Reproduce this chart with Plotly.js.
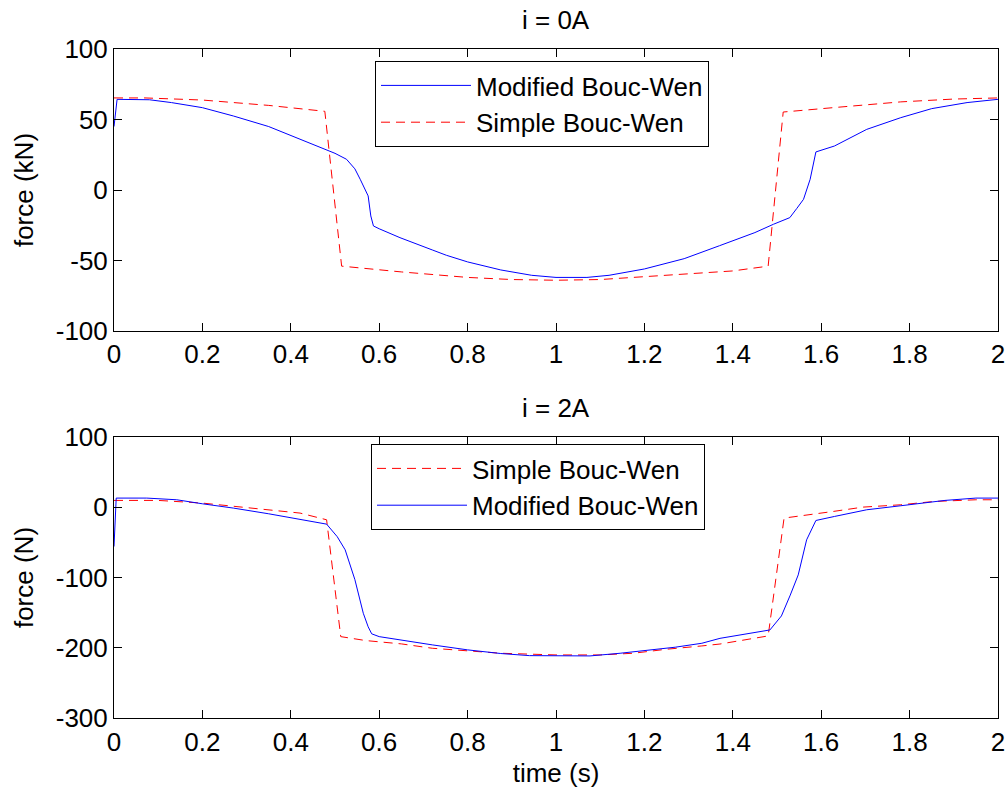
<!DOCTYPE html>
<html>
<head>
<meta charset="utf-8">
<script src="https://cdn.plot.ly/plotly-3.0.1.min.js"></script>
<style>html,body{margin:0;padding:0;background:#fff}#chart{width:1008px;height:791px}</style>
</head>
<body>
<div id="chart"></div>
<script>
// ---- data ----
// Top panel: i = 0A, force in kN
var tModTop = [0, 0.007, 0.08, 0.13, 0.2, 0.27, 0.35, 0.42, 0.47, 0.5, 0.526, 0.545, 0.557, 0.568, 0.575, 0.581, 0.587, 0.6, 0.647, 0.72, 0.752, 0.8, 0.875, 0.945, 1.0, 1.07, 1.12, 1.2, 1.29, 1.37, 1.45, 1.492, 1.529, 1.545, 1.56, 1.575, 1.582, 1.588, 1.63, 1.703, 1.78, 1.85, 1.93, 2.0];
var fModTop = [45, 64.3, 64, 62, 58.4, 52.5, 45, 36, 30, 26, 21.8, 15, 7.6, 1, -4.2, -18.4, -25.5, -27.5, -33.8, -42.5, -46.3, -51, -56.7, -60.5, -62, -62, -60.5, -56, -48.7, -39.5, -30.2, -24.3, -19.6, -13, -6.6, 7.6, 17, 27, 31.2, 43, 51.3, 57.7, 62, 64.3];
var tSimTop = [0, 0.07, 0.2, 0.35, 0.477, 0.515, 0.65, 0.8, 0.9, 1.0, 1.1, 1.25, 1.4, 1.48, 1.514, 1.627, 1.78, 1.9, 2.0];
var fSimTop = [65.3, 65.3, 63.8, 60, 55.8, -54, -58.1, -62, -63.5, -64, -63.5, -60.5, -57.4, -54, 55.3, 58.4, 62.5, 64.5, 65.3];

// Bottom panel: i = 2A, force in N
var tModBot = [0, 0.005, 0.074, 0.142, 0.2, 0.27, 0.35, 0.421, 0.46, 0.481, 0.505, 0.523, 0.545, 0.564, 0.575, 0.583, 0.6, 0.647, 0.72, 0.8, 0.875, 0.94, 1.0, 1.077, 1.145, 1.2, 1.27, 1.33, 1.371, 1.484, 1.51, 1.53, 1.548, 1.567, 1.588, 1.63, 1.703, 1.78, 1.88, 1.95, 2.0];
var fModBot = [-56, 12.8, 12.8, 10.4, 4.7, -1.4, -9.5, -17, -21.8, -24.2, -42, -60.7, -103, -150.8, -170, -180, -184, -188.8, -195.7, -202.8, -208, -211, -211.4, -211.4, -207.6, -203.8, -199, -193.4, -186.4, -174.5, -154.6, -125, -96.3, -46.5, -19, -13.3, -3.8, 1.9, 9.5, 12.8, 12.8];
var tSimBot = [0, 0.1, 0.2, 0.27, 0.35, 0.421, 0.481, 0.513, 0.57, 0.65, 0.72, 0.8, 0.875, 1.0, 1.1, 1.175, 1.25, 1.33, 1.371, 1.48, 1.516, 1.627, 1.695, 1.78, 1.855, 1.95, 2.0];
var fSimBot = [9.5, 9.5, 5.7, 0.9, -3.8, -8.5, -18, -184, -189.6, -194.3, -200.5, -204.3, -207.6, -210, -210, -207.6, -201.9, -197.2, -194.5, -183, -15.6, -6.2, 0, 3.3, 8, 10.4, 10.4];

var xTicks = [0, 0.2, 0.4, 0.6, 0.8, 1, 1.2, 1.4, 1.6, 1.8, 2];
var xTickText = ['0', '0.2', '0.4', '0.6', '0.8', '1', '1.2', '1.4', '1.6', '1.8', '2'];
var yTopTicks = [-100, -50, 0, 50, 100];
var yTopText = ['-100', '-50', '0', '50', '100'];
var yBotTicks = [-300, -200, -100, 0, 100];
var yBotText = ['-300', '-200', '-100', '0', '100'];

var nameMod = 'Modified Bouc-Wen';
var nameSim = 'Simple Bouc-Wen';
var titleTop = 'i = 0A';
var titleBot = 'i = 2A';

// ---- styling ----
var FONT = 'Liberation Sans, Arial, sans-serif';
var FS = 26;
var blueLine = {color: '#0000ff', width: 1};
var redLine = {color: '#ff0000', width: 1, dash: '9px,6px'};

var traces = [
  {x: tModTop, y: fModTop, type: 'scatter', mode: 'lines', name: nameMod, line: blueLine, xaxis: 'x', yaxis: 'y', legend: 'legend'},
  {x: tSimTop, y: fSimTop, type: 'scatter', mode: 'lines', name: nameSim, line: redLine, xaxis: 'x', yaxis: 'y', legend: 'legend'},
  {x: tSimBot, y: fSimBot, type: 'scatter', mode: 'lines', name: nameSim, line: redLine, xaxis: 'x2', yaxis: 'y2', legend: 'legend2'},
  {x: tModBot, y: fModBot, type: 'scatter', mode: 'lines', name: nameMod, line: blueLine, xaxis: 'x2', yaxis: 'y2', legend: 'legend2'}
];

function xAxis(anchor, withTitle) {
  var a = {
    domain: [114/1008, 998/1008], anchor: anchor, range: [0, 2],
    tickmode: 'array', tickvals: xTicks, ticktext: xTickText,
    ticks: 'inside', ticklen: 8, tickcolor: '#000', tickwidth: 1,
    mirror: 'allticks', showline: true, linecolor: '#000', linewidth: 1,
    showgrid: false, zeroline: false, automargin: false,
    tickfont: {family: FONT, size: FS, color: '#000'}
  };
  if (withTitle) a.title = {text: 'time (s)', font: {family: FONT, size: FS, color: '#000'}, standoff: 8};
  return a;
}
function yAxis(anchor, domain, range, tv, tt, label) {
  return {
    domain: domain, anchor: anchor, range: range,
    tickmode: 'array', tickvals: tv, ticktext: tt,
    ticks: 'inside', ticklen: 8, tickcolor: '#000', tickwidth: 1,
    mirror: 'allticks', showline: true, linecolor: '#000', linewidth: 1,
    showgrid: false, zeroline: false, automargin: false,
    tickfont: {family: FONT, size: FS, color: '#000'},
    title: {text: label, font: {family: FONT, size: FS, color: '#000'}, standoff: 14}
  };
}

var legendBase = {xanchor: 'left', yanchor: 'top', bgcolor: '#fff', bordercolor: '#000', borderwidth: 1, font: {family: FONT, size: FS, color: '#000'}, itemwidth: 90};

var layout = {
  width: 1008, height: 791,
  margin: {l: 0, r: 0, t: 0, b: 0},
  paper_bgcolor: '#fff', plot_bgcolor: '#fff',
  font: {family: FONT, size: FS, color: '#000'},
  xaxis: xAxis('y', false),
  yaxis: yAxis('x', [1 - 331/791, 1 - 49/791], [-100, 100], yTopTicks, yTopText, 'force (kN)'),
  xaxis2: xAxis('y2', true),
  yaxis2: yAxis('x2', [1 - 718.3/791, 1 - 436.7/791], [-300, 100], yBotTicks, yBotText, 'force (N)'),
  legend: Object.assign({x: 375/1008, y: 1 - 61/791}, legendBase),
  legend2: Object.assign({x: 371/1008, y: 1 - 444/791}, legendBase),
  annotations: [
    {text: titleTop, xref: 'paper', yref: 'paper', x: 556/1008, y: 1 - 20/791, xanchor: 'center', yanchor: 'middle', showarrow: false, font: {family: FONT, size: FS, color: '#000'}},
    {text: titleBot, xref: 'paper', yref: 'paper', x: 556/1008, y: 1 - 408/791, xanchor: 'center', yanchor: 'middle', showarrow: false, font: {family: FONT, size: FS, color: '#000'}}
  ],
  showlegend: true
};

Plotly.newPlot('chart', traces, layout, {staticPlot: true, displayModeBar: false});
</script>
</body>
</html>
